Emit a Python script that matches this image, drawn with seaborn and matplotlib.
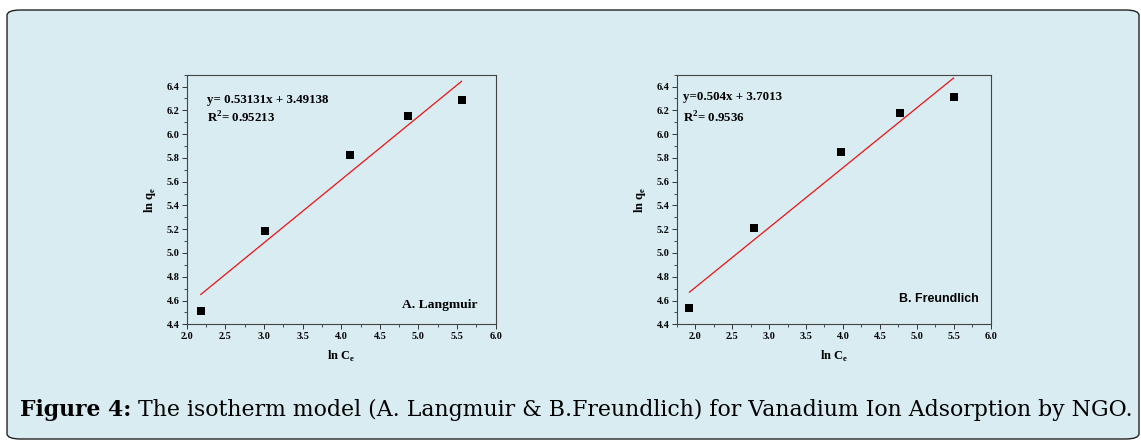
import numpy as np
import pandas as pd
import matplotlib
matplotlib.use("Agg")
import matplotlib.pyplot as plt
from matplotlib.patches import FancyBboxPatch
from matplotlib.ticker import MultipleLocator, FormatStrFormatter
import seaborn as sns

# ---- data ----
lang_x = [2.18, 3.02, 4.11, 4.87, 5.56]
lang_y = [4.515, 5.186, 5.821, 6.151, 6.285]
lang_slope, lang_icpt = 0.53131, 3.49138
lang_eq = "y= 0.53131x + 3.49138"
lang_r2 = "R$^{2}$= 0.95213"
lang_name = "A. Langmuir"

freu_x = [1.92, 2.80, 3.98, 4.77, 5.50]
freu_y = [4.535, 5.211, 5.846, 6.176, 6.316]
freu_slope, freu_icpt = 0.504, 3.7013
freu_eq = "y=0.504x + 3.7013"
freu_r2 = "R$^{2}$= 0.9536"
freu_name = "B. Freundlich"

caption_bold = "Figure 4:"
caption_text = " The isotherm model (A. Langmuir & B.Freundlich) for Vanadium Ion Adsorption by NGO."

BG = "#d8ecf2"

sns.set_theme(style="ticks")
plt.rcParams["font.family"] = ["Liberation Serif", "DejaVu Serif"]
plt.rcParams["mathtext.fontset"] = "custom"
plt.rcParams["mathtext.rm"] = "Liberation Serif:bold"
plt.rcParams["mathtext.bf"] = "Liberation Serif:bold"
plt.rcParams["text.color"] = "black"
plt.rcParams["axes.labelcolor"] = "black"
plt.rcParams["xtick.labelcolor"] = "black"
plt.rcParams["ytick.labelcolor"] = "black"

W, H = 1141, 442
fig = plt.figure(figsize=(W / 100, H / 100), dpi=100)
fig.patch.set_facecolor("white")

panel = FancyBboxPatch((7 / W, 3 / H), (W - 9) / W, (H - 13) / H,
                       boxstyle="round,pad=0,rounding_size=0.012",
                       transform=fig.transFigure, facecolor=BG,
                       edgecolor="#222222", linewidth=1.0, zorder=-10)
fig.patches.append(panel)


def make_panel(rect, xs, ys, slope, icpt, eq, r2, name, xlim, eqpos, r2pos,
               namepos, namefont, namesize):
    ax = fig.add_axes(rect)
    ax.set_zorder(2)
    ax.set_facecolor(BG)
    df = pd.DataFrame({"x": xs, "y": ys})
    xfit = np.array([min(xs), max(xs)])
    dfl = pd.DataFrame({"x": xfit, "y": slope * xfit + icpt})
    sns.lineplot(data=dfl, x="x", y="y", ax=ax, color="#ee1111", linewidth=0.9)
    sns.scatterplot(data=df, x="x", y="y", ax=ax, marker="s", color="black",
                    s=28, edgecolor="black", linewidth=0, zorder=3)
    ax.set_xlim(*xlim)
    ax.set_ylim(4.4, 6.5)
    ax.xaxis.set_major_locator(MultipleLocator(0.5))
    ax.xaxis.set_minor_locator(MultipleLocator(0.25))
    ax.yaxis.set_major_locator(MultipleLocator(0.2))
    ax.yaxis.set_minor_locator(MultipleLocator(0.1))
    ax.xaxis.set_major_formatter(FormatStrFormatter("%.1f"))
    ax.yaxis.set_major_formatter(FormatStrFormatter("%.1f"))
    ax.tick_params(which="major", direction="out", length=3.5, width=0.7,
                   labelsize=7.3, pad=1.8, colors="#333333", labelcolor="black")
    ax.tick_params(which="minor", direction="out", length=2.0, width=0.6,
                   colors="#333333")
    for lab in ax.get_xticklabels() + ax.get_yticklabels():
        lab.set_fontweight("bold")
    for sp in ax.spines.values():
        sp.set_visible(True)
        sp.set_color("#444444")
        sp.set_linewidth(0.8)
    ax.set_xlabel("ln C$_\\mathregular{e}$", fontsize=9, fontweight="bold",
                  labelpad=6)
    ax.set_ylabel("ln q$_\\mathregular{e}$", fontsize=9, fontweight="bold",
                  labelpad=6)
    ax.text(eqpos[0], eqpos[1], eq, transform=ax.transAxes, fontsize=9.3,
            fontweight="bold", va="center", ha="left")
    ax.text(r2pos[0], r2pos[1], r2, transform=ax.transAxes, fontsize=9.3,
            fontweight="bold", va="center", ha="left")
    ax.text(namepos[0], namepos[1], name, transform=ax.transAxes,
            fontsize=namesize, fontweight="bold", va="center", ha="center",
            family=namefont)
    return ax


make_panel([186.7 / W, 1 - 324.3 / H, 309 / W, 249.6 / H],
           lang_x, lang_y, lang_slope, lang_icpt, lang_eq, lang_r2, lang_name,
           (2.0, 6.0), (0.065, 0.899), (0.065, 0.828), (0.82, 0.077),
           ["Liberation Serif"], 9.7)
make_panel([676.7 / W, 1 - 324.3 / H, 314 / W, 249.6 / H],
           freu_x, freu_y, freu_slope, freu_icpt, freu_eq, freu_r2, freu_name,
           (1.75, 6.0), (0.021, 0.912), (0.021, 0.828), (0.836, 0.10),
           ["Liberation Sans"], 8.9)

# caption, sized to span the reference width
cap_fs = 15
cap_y = 1 - 410 / H
t1 = fig.text(20 / W, cap_y, caption_bold, fontsize=cap_fs, fontweight="bold",
              va="center", ha="left", family=["DejaVu Serif"])
t2 = fig.text(0, cap_y, caption_text, fontsize=cap_fs, va="center", ha="left",
              family=["DejaVu Serif"])
r = fig.canvas.get_renderer()
total = t1.get_window_extent(r).width + t2.get_window_extent(r).width
cap_fs = cap_fs * 1117 / total
t1.set_fontsize(cap_fs)
t2.set_fontsize(cap_fs)
x1 = t1.get_window_extent(r).x1
t2.set_x(x1 / W)

fig.savefig("out.png", dpi=100, facecolor="white")
